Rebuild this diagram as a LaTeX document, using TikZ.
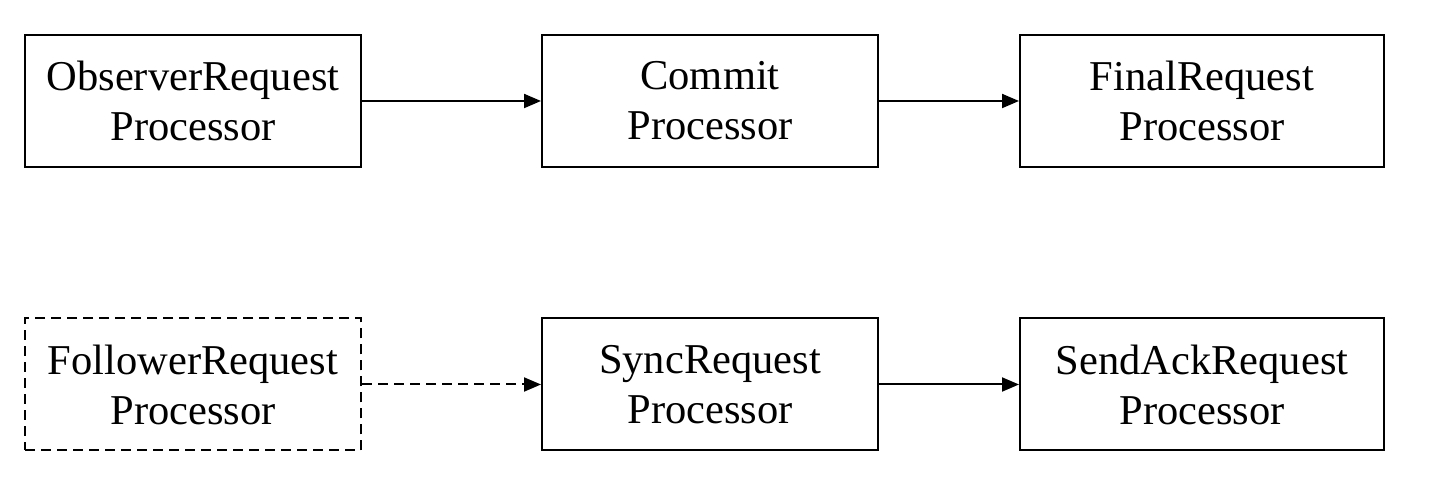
\documentclass[tikz,border=0pt]{standalone}
\usepackage{fontspec}
\setmainfont{Liberation Serif}
\usetikzlibrary{arrows.meta}
\begin{document}
\begin{tikzpicture}[x=1pt,y=1pt,
  procbox/.style={draw, line width=2pt, minimum height=132pt, align=center, inner sep=0pt,
    font=\fontsize{42.5}{50}\selectfont},
  conn/.style={line width=2pt, -{Triangle[length=17pt,width=14pt]}},
  dashedline/.style={dash pattern=on 10pt off 6pt}]
\useasboundingbox (0,0) rectangle (1436,500);
\node[procbox, minimum width=336pt, dashedline] (follower) at (193,115.5) {FollowerRequest\\Processor};
\node[procbox, minimum width=336pt] (observer) at (193,399) {ObserverRequest\\Processor};
\node[procbox, minimum width=336pt] (commit) at (710,399) {Commit\\Processor};
\node[procbox, minimum width=364pt] (final) at (1202,399) {FinalRequest\\Processor};
\node[procbox, minimum width=336pt] (sync) at (710,115.5) {SyncRequest\\Processor};
\node[procbox, minimum width=364pt] (sendack) at (1202,115.5) {SendAckRequest\\Processor};
\draw[conn] (observer) -- (commit);
\draw[conn] (commit) -- (final);
\draw[conn, dashedline] (follower) -- (sync);
\draw[conn] (sync) -- (sendack);
\end{tikzpicture}
\end{document}
